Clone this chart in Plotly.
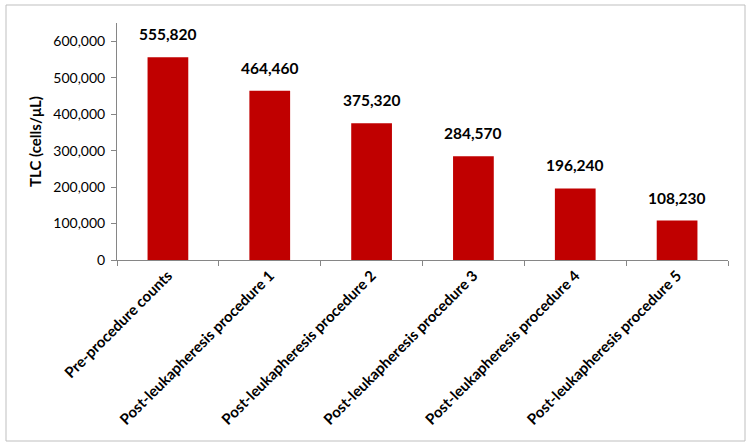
import plotly.graph_objects as go

categories = ["Pre-procedure counts", "Post-leukapheresis procedure 1", "Post-leukapheresis procedure 2",
              "Post-leukapheresis procedure 3", "Post-leukapheresis procedure 4", "Post-leukapheresis procedure 5"]
values = [555820, 464460, 375320, 284570, 196240, 108230]
value_labels = ["555,820", "464,460", "375,320", "284,570", "196,240", "108,230"]

FONT = "Lato, Calibri, 'Open Sans', sans-serif"

fig = go.Figure(go.Bar(x=categories, y=values, marker=dict(color="#C00000", line=dict(width=0)), width=0.4))

for c, v, t in zip(categories, values, value_labels):
    fig.add_annotation(x=c, y=v, text="<b>%s</b>" % t, showarrow=False, yanchor="bottom", yshift=12,
                       font=dict(family=FONT, size=15.5, color="#000000"))

L, R, T, B = 117, 22, 23, 186
W, H = 750, 446
pw, ph = W - L - R, H - T - B
fig.add_shape(type="rect", xref="paper", yref="paper",
              x0=(6 - L) / pw, x1=(745 - L) / pw, y0=(H - B - 441) / ph, y1=(H - B - 5) / ph,
              line=dict(color="#BFBFBF", width=1), fillcolor="rgba(0,0,0,0)", layer="below")

fig.update_layout(
    width=W, height=H, margin=dict(l=L, r=R, t=T, b=B),
    paper_bgcolor="white", plot_bgcolor="white", showlegend=False,
    font=dict(family=FONT, size=14, color="#000000"),
    xaxis=dict(tickangle=-45, tickfont=dict(family=FONT, size=15, color="#000000", weight="bold"),
               showline=True, linecolor="#868686", linewidth=1, ticks="outside", tickson="boundaries",
               tickcolor="#868686", ticklen=5, showgrid=False),
    yaxis=dict(range=[0, 650000], tickvals=[0, 100000, 200000, 300000, 400000, 500000, 600000],
               ticktext=["0", "100,000", "200,000", "300,000", "400,000", "500,000", "600,000"],
               tickfont=dict(family=FONT, size=14, color="#000000"), ticklabelstandoff=3,
               showline=True, linecolor="#868686", linewidth=1, ticks="outside", tickcolor="#868686",
               ticklen=5, showgrid=False, zeroline=False,
               title=dict(text="<b>TLC (cells/μL)</b>", font=dict(family=FONT, size=15, color="#000000"), standoff=8)),
)

fig.write_html("out.html")
